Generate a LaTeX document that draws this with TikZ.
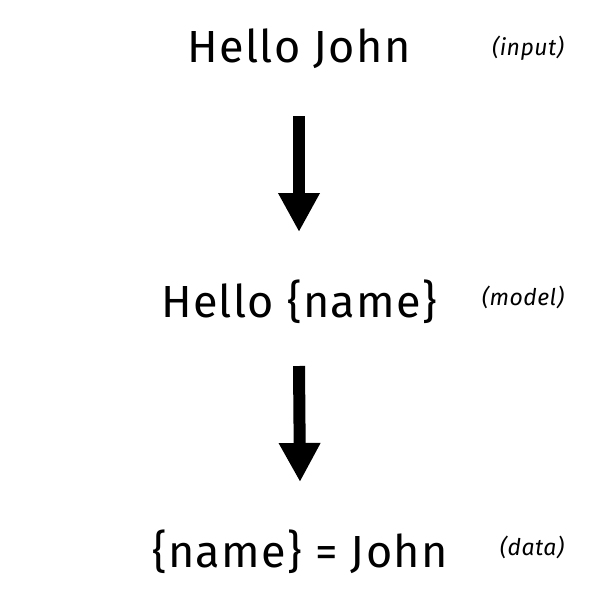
\documentclass[tikz,border=0pt]{standalone}
\usepackage{fontspec}
\setmainfont{Fira Sans}
\newfontfamily\bigfont[LetterSpace=3]{Fira Sans}
\newfontfamily\tagfont[LetterSpace=2]{Fira Sans}
\usetikzlibrary{arrows.meta}
\begin{document}
\begin{tikzpicture}[x=1pt,y=-1pt,
  big/.style={inner sep=0pt,anchor=base,font=\bigfont\fontsize{45}{54}\selectfont},
  tag/.style={inner sep=0pt,anchor=base,font=\tagfont\fontsize{23}{27}\selectfont\itshape},
  flow/.style={line width=12pt,-{Triangle[width=39pt,length=39pt]}}]
\useasboundingbox (0,0) rectangle (600,600);
\node[big] (n1) at (299,62) {Hello John};
\node[tag] (t1) at (528,55) {(input)};
\node[big] (n2) at (299,317) {Hello \{name\}};
\node[tag] (t2) at (523,305) {(model)};
\node[big] (n3) at (300,567) {\{name\} = John};
\node[tag] (t3) at (532,555) {(data)};
\draw[flow] ([yshift=-54pt]n1.base) -- ([yshift=85pt]n2.base);
\draw[flow] ([yshift=-49pt]n2.base) -- ([yshift=85pt]n3.base);
\end{tikzpicture}
\end{document}
